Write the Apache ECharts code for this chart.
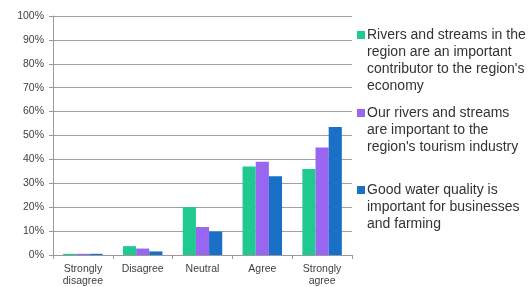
<!DOCTYPE html>
<html><head><meta charset="utf-8">
<script src="https://cdn.jsdelivr.net/npm/echarts@6/dist/echarts.min.js"></script>
<style>html,body{margin:0;padding:0;background:#fff}#c{width:532px;height:287px}</style>
</head><body><div id="c"></div>
<script>
var categories = ['Strongly\ndisagree', 'Disagree', 'Neutral', 'Agree', 'Strongly\nagree'];
var seriesNames = [
  'Rivers and streams in the\nregion are an important\ncontributor to the region\'s\neconomy',
  'Our rivers and streams\nare important to the\nregion\'s tourism industry',
  'Good water quality is\nimportant for businesses\nand farming'
];
var economy = [0.5, 3.7, 20, 37, 36];
var tourism = [0.5, 2.7, 11.7, 39, 45];
var business = [0.5, 1.5, 9.8, 33, 53.6];
var colors = ['#1fc98f', '#9966f2', '#1a6fc6'];
var legendTops = [29, 107, 184];

var chart = echarts.init(document.getElementById('c'));
var dataSets = [economy, tourism, business];
var series = dataSets.map(function (d, i) {
  return {
    name: seriesNames[i], type: 'bar', data: d, barGap: 0, barCategoryGap: '34%',
    itemStyle: { color: colors[i] }
  };
});
var graphics = [];
seriesNames.forEach(function (n, i) {
  graphics.push({ type: 'rect', left: 357, top: legendTops[i] + 2, shape: { width: 8, height: 8 }, style: { fill: colors[i] } });
  graphics.push({ type: 'text', left: 367, top: legendTops[i] - 2, style: { text: n, fill: '#333', font: '14px "Liberation Sans", Arial, sans-serif', lineHeight: 17 } });
});
chart.setOption({
  animation: false,
  grid: { left: 53, top: 16, width: 299, bottom: 32 },
  xAxis: {
    type: 'category', data: categories,
    axisLine: { lineStyle: { color: '#999' } },
    axisTick: { show: true, length: 4, lineStyle: { color: '#999' } },
    axisLabel: { color: '#404040', fontSize: 10.5, fontFamily: 'Liberation Sans, Arial', lineHeight: 12, margin: 8 }
  },
  yAxis: {
    type: 'value', min: 0, max: 100, interval: 10,
    axisLine: { show: true, lineStyle: { color: '#999' } },
    axisTick: { show: true, length: 4, lineStyle: { color: '#999' } },
    splitLine: { lineStyle: { color: '#a0a0a0' } },
    axisLabel: { formatter: '{value}%', color: '#404040', fontSize: 10.5, fontFamily: 'Liberation Sans, Arial', margin: 9 }
  },
  graphic: graphics,
  series: series
});
</script></body></html>
